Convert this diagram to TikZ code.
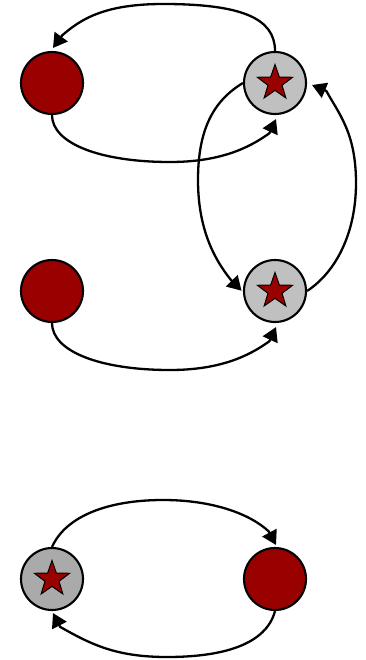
\documentclass[tikz,border=0pt]{standalone}
\usetikzlibrary{shapes.geometric,arrows.meta,calc}
\definecolor{dred}{HTML}{990000}
\definecolor{lgray}{HTML}{C0C0C0}
\definecolor{mgray}{HTML}{AAAAAA}
\tikzset{
  basecirc/.style={circle,draw=black,line width=2.1pt,minimum size=62pt,inner sep=0pt},
  rednode/.style={basecirc,fill=dred},
  graynode/.style={basecirc,fill=lgray},
  darkgraynode/.style={basecirc,fill=mgray},
  starsym/.style={star,star points=5,star point ratio=2.5,draw=black,line width=1pt,fill=dred,minimum size=37pt,inner sep=0pt},
  arr/.style={draw=black,line width=2.3pt,line join=round,-{Triangle[length=14pt,width=16pt]}}
}
\begin{document}
\begin{tikzpicture}[x=1pt,y=1pt]
\useasboundingbox (0,0) rectangle (366,-660);
\node[rednode] (A) at (52,-83) {};
\node[graynode] (B) at (275,-83) {};
\node[starsym] (Bs) at (275,-83) {};
\node[rednode] (C) at (52,-291) {};
\node[graynode] (D) at (275,-291) {};
\node[starsym] (Ds) at (275,-291) {};
\node[darkgraynode] (E) at (52,-579) {};
\node[starsym] (Es) at (52,-579) {};
\node[rednode] (F) at (275,-579) {};

% B -> A (top)
\draw[arr] (B.north) .. controls (275,-18) and (241,-4) .. (163,-4)
  .. controls (103,-4) and (80,-20) .. ($(A.north)+(10.1,15.5)$) -- ($(A.north)+(1,3)$);
% A -> B (below)
\draw[arr] (A.south) .. controls (52,-143) and (99,-162) .. (170,-162)
  .. controls (220,-162) and (249,-148) .. ($(B.south)+(-5.5,-18.1)$) -- ($(B.south)+(1,-4)$);
% B -> D (left arc)
\draw[arr] (B.west) .. controls (213,-101) and (198,-130) .. (198,-180)
  .. controls (198,-230) and (215,-260) .. ($(D.west)+(-12.3,11.4)$) -- ($(D.west)+(-1.4,0.3)$);
% D -> B (right arc)
\draw[arr] (D.east) .. controls (336,-272) and (356,-233) .. (356,-183)
  .. controls (356,-133) and (339,-114) .. ($(B.east)+(19.3,-8)$) -- ($(B.east)+(5,-2)$);
% C -> D
\draw[arr] (C.south) .. controls (52,-351) and (99,-370) .. (170,-370)
  .. controls (220,-370) and (249,-356) .. ($(D.south)+(-5.5,-18.1)$) -- ($(D.south)+(1,-4)$);
% E -> F
\draw[arr] (E.north) .. controls (66,-516) and (108,-500) .. (163,-500)
  .. controls (213,-500) and (250,-514) .. ($(F.north)+(-6.3,15.6)$) -- ($(F.north)+(1,2)$);
% F -> E
\draw[arr] (F.south) .. controls (266,-645) and (222,-657) .. (167,-657)
  .. controls (117,-657) and (92,-645) .. ($(E.south)+(8.1,-15.8)$) -- ($(E.south)+(1,-2)$);
\end{tikzpicture}
\end{document}
